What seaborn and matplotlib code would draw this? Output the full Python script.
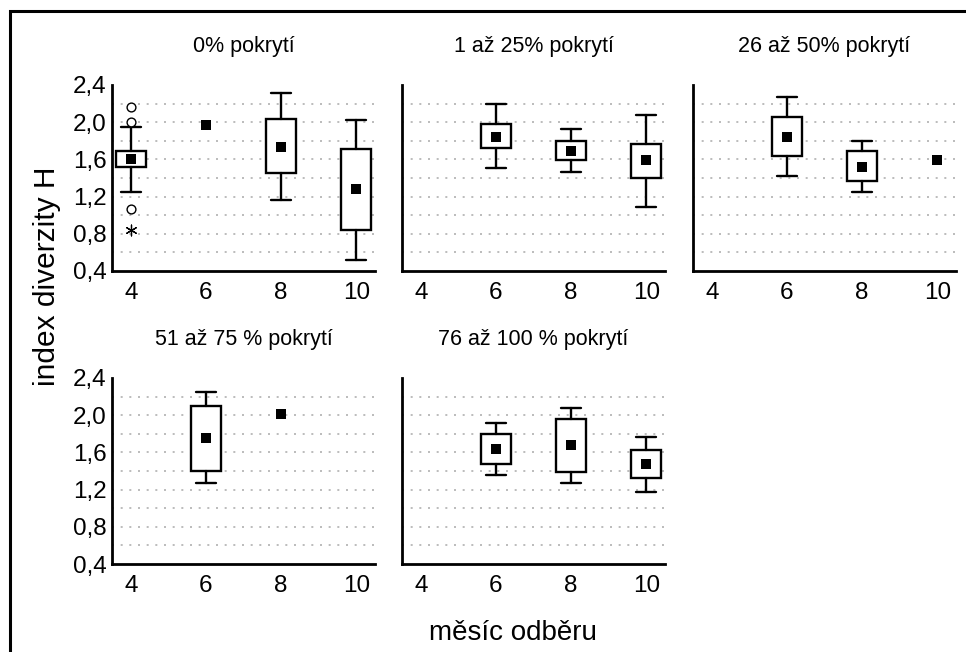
import numpy as np
import pandas as pd
import matplotlib
matplotlib.use("Agg")
import matplotlib.pyplot as plt
from matplotlib.ticker import MultipleLocator, FixedLocator, FuncFormatter
from matplotlib.patches import Rectangle
import seaborn as sns

# ---- data -------------------------------------------------------------
months = [4, 6, 8, 10]
panels = ["0% pokrytí", "1 až 25% pokrytí", "26 až 50% pokrytí",
          "51 až 75 % pokrytí", "76 až 100 % pokrytí"]
nan = np.nan

# per panel, one value per month (NaN = no sample)
medians = [
    [1.60, 1.97, 1.73, 1.28],
    [nan, 1.84, 1.69, 1.59],
    [nan, 1.84, 1.52, 1.59],
    [nan, 1.76, 2.01, nan],
    [nan, 1.64, 1.68, 1.48],
]
q1 = [
    [1.515, nan, 1.457, 0.837],
    [nan, 1.719, 1.590, 1.400],
    [nan, 1.633, 1.371, nan],
    [nan, 1.404, nan, nan],
    [nan, 1.479, 1.389, 1.328],
]
q3 = [
    [1.694, nan, 2.031, 1.712],
    [nan, 1.981, 1.798, 1.769],
    [nan, 2.056, 1.687, nan],
    [nan, 2.103, nan, nan],
    [nan, 1.798, 1.959, 1.622],
]
whisker_lo = [
    [1.253, nan, 1.167, 0.522],
    [nan, 1.511, 1.465, 1.092],
    [nan, 1.422, 1.253, nan],
    [nan, 1.267, nan, nan],
    [nan, 1.361, 1.275, 1.178],
]
whisker_hi = [
    [1.948, nan, 2.318, 2.024],
    [nan, 2.196, 1.923, 2.081],
    [nan, 2.271, 1.801, nan],
    [nan, 2.249, nan, nan],
    [nan, 1.916, 2.077, 1.769],
]
# outliers and extremes (panel index, month, value)
outlier_panel = [0, 0, 0]
outlier_month = [4, 4, 4]
outlier_value = [2.167, 1.999, 1.067]
extreme_panel = [0]
extreme_month = [4]
extreme_value = [0.841]

y_label = "index diverzity H"
x_label = "měsíc odběru"

# ---- style ------------------------------------------------------------
sns.set_theme(style="white")
plt.rcParams["font.family"] = ["Liberation Sans", "DejaVu Sans"]
plt.rcParams["axes.unicode_minus"] = False

W, H = 966, 652
fig = plt.figure(figsize=(W / 100, H / 100), dpi=100)
fig.patch.set_facecolor("white")

# frame line along the left and top edge of the figure
fig.add_artist(Rectangle((10 / W, -0.1), 1.2, 1 - 11 / H + 0.1,
                         transform=fig.transFigure, fill=False,
                         edgecolor="black", linewidth=2.2))

ax_w, ax_h = 263, 186
cells = [(112, 85), (402, 85), (693, 85), (112, 378), (402, 378)]

comma = FuncFormatter(lambda v, p: f"{v:.1f}".replace(".", ","))

for k, title in enumerate(panels):
    left, top = cells[k]
    ax = fig.add_axes([left / W, 1 - (top + ax_h) / H, ax_w / W, ax_h / H])

    # dotted horizontal guides
    for g in np.arange(0.6, 2.3, 0.2):
        ax.axhline(g, color="#b0b0b0", linestyle=(0, (1.2, 4)), linewidth=1.2,
                   zorder=0)

    stats, pos = [], []
    for j, m in enumerate(months):
        if not np.isnan(q1[k][j]):
            stats.append(dict(med=medians[k][j], q1=q1[k][j], q3=q3[k][j],
                              whislo=whisker_lo[k][j], whishi=whisker_hi[k][j],
                              fliers=[]))
            pos.append(m)
    if stats:
        ax.bxp(stats, positions=pos, widths=0.8, capwidths=0.54,
               showfliers=False, patch_artist=True,
               boxprops=dict(facecolor="white", edgecolor="black",
                             linewidth=1.7),
               whiskerprops=dict(color="black", linewidth=1.7),
               capprops=dict(color="black", linewidth=1.7),
               medianprops=dict(linewidth=0), manage_ticks=False, zorder=2)

    df = pd.DataFrame({"month": months, "median": medians[k]}).dropna()
    sns.scatterplot(data=df, x="month", y="median", marker="s", s=50,
                    color="black", edgecolor="black", linewidth=0, ax=ax,
                    zorder=3, legend=False)

    odf = pd.DataFrame({"p": outlier_panel, "month": outlier_month,
                        "v": outlier_value})
    odf = odf[odf.p == k]
    if len(odf):
        sns.scatterplot(data=odf, x="month", y="v", marker="o", s=40,
                        facecolor="white", edgecolor="black", linewidth=1.0,
                        ax=ax, zorder=3, legend=False)
    edf = pd.DataFrame({"p": extreme_panel, "month": extreme_month,
                        "v": extreme_value})
    edf = edf[edf.p == k]
    if len(edf):
        sns.scatterplot(data=edf, x="month", y="v", marker=(6, 2, 0), s=60,
                        color="black", linewidth=0.9, ax=ax, zorder=3,
                        legend=False)

    ax.set_xlim(3.5, 10.5)
    ax.set_ylim(0.4, 2.4)
    ax.xaxis.set_major_locator(FixedLocator(months))
    ax.xaxis.set_minor_locator(FixedLocator([5, 7, 9]))
    ax.yaxis.set_major_locator(MultipleLocator(0.4))
    ax.yaxis.set_minor_locator(MultipleLocator(0.2))
    ax.yaxis.set_major_formatter(comma)
    ax.tick_params(which="both", direction="in", length=4, width=1.5,
                   color="black", labelsize=17.5, labelcolor="black")
    ax.tick_params(axis="x", which="major", pad=8)
    ax.tick_params(axis="y", which="major", pad=4)
    if k not in (0, 3):
        ax.tick_params(axis="y", labelleft=False)
    ax.set_xlabel("")
    ax.set_ylabel("")
    ax.set_title(title, fontsize=15.5, pad=24, color="black")
    sns.despine(ax=ax)
    for s in ("left", "bottom"):
        ax.spines[s].set_linewidth(2)
        ax.spines[s].set_color("black")
    ax.set_facecolor("white")

fig.text(47 / W, 1 - 276 / H, y_label, rotation=90, ha="center", va="center",
         fontsize=21.5, color="black")
fig.text(513 / W, 1 - 633 / H, x_label, ha="center", va="center",
         fontsize=20, color="black")

fig.savefig("out.png", dpi=100)
